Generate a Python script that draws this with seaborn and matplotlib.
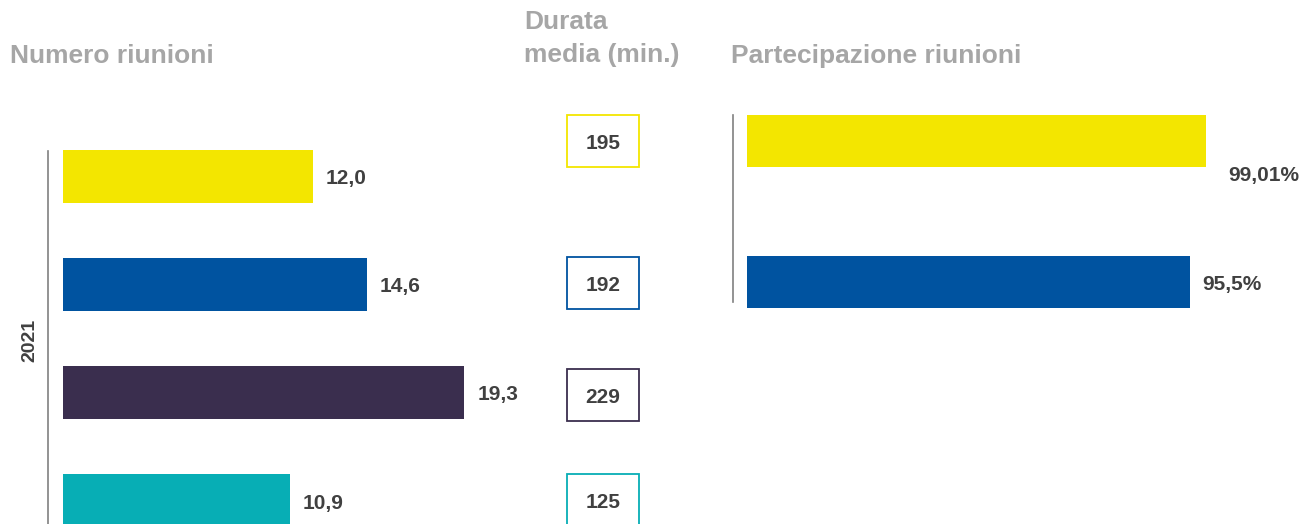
import numpy as np
import matplotlib
matplotlib.use("Agg")
import matplotlib.pyplot as plt
import seaborn as sns

# DATA
gruppi = ["gruppo 1", "gruppo 2", "gruppo 3", "gruppo 4"]
numero_riunioni = [12.0, 14.6, 19.3, 10.9]
durata_media = [195, 192, 229, 125]
gruppi_partecipazione = ["gruppo 1", "gruppo 2"]
partecipazione = [99.01, 95.5]
anno = "2021"

colori = ["#f3e600", "#0053a0", "#3a2e4e", "#07aeb5"]
grigio_titolo = "#a6a6a6"
testo_scuro = "#404040"

sns.set_style("white")
plt.rcParams["font.family"] = ["Liberation Sans", "DejaVu Sans"]

W, H = 1314, 524
fig = plt.figure(figsize=(W / 100, H / 100), dpi=100)


def px_axes(x0, y0, x1, y1):
    # pixel box (top-left origin) -> figure fraction axes
    return fig.add_axes([x0 / W, 1 - y1 / H, (x1 - x0) / W, (y1 - y0) / H])


def pulisci(ax):
    ax.set_xticks([])
    ax.set_yticks([])
    ax.set_xlabel("")
    ax.set_ylabel("")
    for s in ax.spines.values():
        s.set_visible(False)
    ax.patch.set_alpha(0)


# NUMERO RIUNIONI
ax1 = px_axes(63, 120, 543, 524)
sns.barplot(x=numero_riunioni, y=gruppi, hue=gruppi, palette=colori, orient="h",
            width=53 / 108, saturation=1, linewidth=0, legend=False, ax=ax1)
ax1.set_xlim(0, 480 / 20.8)
ax1.set_ylim(3.213, -0.523)
pulisci(ax1)
ax1.spines["left"].set_visible(True)
ax1.spines["left"].set_position(("outward", 11))
ax1.spines["left"].set_bounds(-0.24, 3.213)
ax1.spines["left"].set_color("#808080")
ax1.spines["left"].set_linewidth(1.2)
for i, v in enumerate(numero_riunioni):
    ax1.annotate(f"{v:.1f}".replace(".", ","), xy=(v, i), xytext=(9.5, -1.5),
                 textcoords="offset points", va="center", ha="left",
                 fontsize=15, fontweight="bold", color=testo_scuro)

fig.text(30 / W, 1 - 340 / H, anno, rotation=90, ha="center", va="center",
         fontsize=14, fontweight="bold", color=testo_scuro)

# DURATA MEDIA (boxes)
ax2 = px_axes(566, 0, 640, 524)
righe_box = [140.5, 282.5, 394.5, 499.5]
ax2.barh(righe_box, [1] * len(durata_media), height=52, left=0,
         color="white", edgecolor=colori, linewidth=1.3)
ax2.set_xlim(-0.01, 1.01)
ax2.set_ylim(524, 0)
pulisci(ax2)
for r, d in zip(righe_box, durata_media):
    ax2.annotate(str(d), xy=(0.5, r), xytext=(0, -2.5), textcoords="offset points",
                 ha="center", va="center", fontsize=15,
                 fontweight="bold", color=testo_scuro)

# PARTECIPAZIONE
ax3 = px_axes(747, 100, 1314, 524)
sns.barplot(x=partecipazione, y=gruppi_partecipazione, hue=gruppi_partecipazione,
            palette=colori[:2], orient="h", width=52 / 141, saturation=1,
            linewidth=0, legend=False, ax=ax3)
ax3.set_xlim(0, 567 / 4.64)
ax3.set_ylim(2.716, -0.291)
pulisci(ax3)
ax3.spines["left"].set_visible(True)
ax3.spines["left"].set_position(("outward", 10))
ax3.spines["left"].set_bounds(-0.184, 1.142)
ax3.spines["left"].set_color("#808080")
ax3.spines["left"].set_linewidth(1.2)
offset_etichette = [(15.5, -25), (8.5, -1.5)]
for i, v in enumerate(partecipazione):
    ax3.annotate(str(v).replace(".", ",") + "%", xy=(v, i),
                 xytext=offset_etichette[i], textcoords="offset points",
                 va="center", ha="left", fontsize=15, fontweight="bold",
                 color=testo_scuro)

# TITOLI
fig.text(10 / W, 1 - 63 / H, "Numero riunioni", ha="left", va="baseline",
         fontsize=19, fontweight="bold", color=grigio_titolo)
fig.text(524 / W, 1 - 29 / H, "Durata", ha="left", va="baseline",
         fontsize=19, fontweight="bold", color=grigio_titolo)
fig.text(524 / W, 1 - 62 / H, "media (min.)", ha="left", va="baseline",
         fontsize=19, fontweight="bold", color=grigio_titolo)
fig.text(731 / W, 1 - 63 / H, "Partecipazione riunioni", ha="left", va="baseline",
         fontsize=19, fontweight="bold", color=grigio_titolo)

fig.savefig("out.png", dpi=100, facecolor="white")
